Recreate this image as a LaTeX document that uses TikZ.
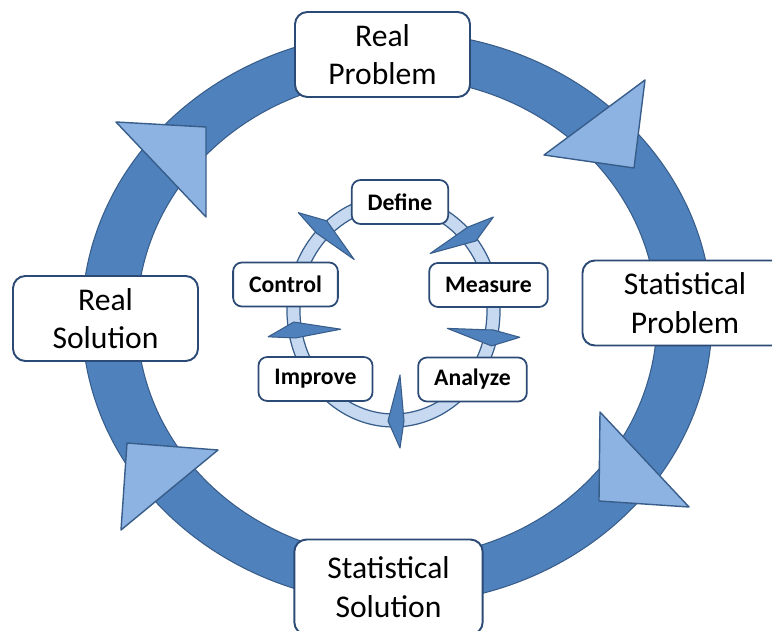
\documentclass[tikz,border=0pt]{standalone}
\usepackage{fontspec}
\setmainfont{Carlito}
\usepackage{tikz}
\usetikzlibrary{positioning,calc}
\usepackage{xcolor}

\definecolor{anneau}{RGB}{79,129,189}
\definecolor{bord}{RGB}{56,93,138}
\definecolor{pointeclaire}{RGB}{141,179,226}
\definecolor{anneauclair}{RGB}{198,217,240}
\definecolor{cadre}{RGB}{44,74,118}

\tikzset{
    grandbloc/.style={draw=cadre, line width=1.1pt, fill=white, rounded corners=7pt,
        align=center, minimum height=1.7cm, minimum width=3.5cm, inner xsep=0.66cm,
        font=\fontsize{18}{22}\selectfont},
    petitbloc/.style={draw=cadre, line width=1pt, fill=white, rounded corners=5pt,
        align=center, minimum height=0.88cm, inner xsep=0.32cm,
        font=\fontsize{13.5}{16}\selectfont\bfseries},
    grandepointe/.style={fill=pointeclaire, draw=bord, line width=0.8pt, line join=round},
    petitepointe/.style={fill=anneau, draw=bord, line width=0.6pt, line join=round}
}

\begin{document}
\begin{tikzpicture}[x=0.02cm, y=-0.02cm]
    \useasboundingbox (0,0) rectangle (772,631);
    \clip (0,0) rectangle (772,631);

    % Grand anneau
    \fill[anneau, draw=bord, line width=0.6pt, even odd rule]
        (397,318) ellipse [x radius=315, y radius=286]
        (397,318) ellipse [x radius=260, y radius=240];

    % Têtes de flèche du grand anneau
    \foreach \xa/\ya/\xb/\yb/\xc/\yc in {
        645/80/544/155/634/168, 600/412/599/501/689/507,
        127/443/218/450/121/530, 116/122/206/127/206/217
    } {
        \draw[grandepointe] (\xa,\ya) -- (\xb,\yb) -- (\xc,\yc) -- cycle;
    }

    % Anneau intérieur
    \fill[anneauclair, draw=bord, line width=0.7pt, even odd rule]
        (393.5,311) ellipse [x radius=106.5, y radius=116]
        (393.5,311) ellipse [x radius=93.5, y radius=103];

    % Pointes de l'anneau intérieur (sens horaire)
    \foreach \px/\py/\ang in {319/230/140, 470/230.5/30, 493/334/-7, 400/421/-90, 295/334/186} {
        \begin{scope}[shift={(\px,\py)}, x=0.02cm, y=0.02cm, rotate=\ang-90]
            \draw[petitepointe] (12,0) -- (0,27) -- (-4,0) -- (0,-46) -- cycle;
        \end{scope}
    }

    % Étapes du cycle statistique
    \node[grandbloc] (reelprob) at (382.5,54.5) {Real\\Problem};
    \node[grandbloc, minimum width=4.1cm] (statprob) at (685,303) {Statistical\\Problem};
    \node[grandbloc, minimum height=1.9cm] (statsol) at (388.5,587) {Statistical\\Solution};
    \node[grandbloc, minimum width=3.7cm] (reelsol) at (105.5,318.5) {Real\\Solution};

    % Étapes DMAIC
    \node[petitbloc] (define) at (400,202) {Define};
    \node[petitbloc] (control) at (285.5,284.5) {Control};
    \node[petitbloc] (measure) at (488.5,285) {Measure};
    \node[petitbloc] (improve) at (315.5,379) {Improve};
    \node[petitbloc] (analyze) at (472.5,379.5) {Analyze};
\end{tikzpicture}
\end{document}
